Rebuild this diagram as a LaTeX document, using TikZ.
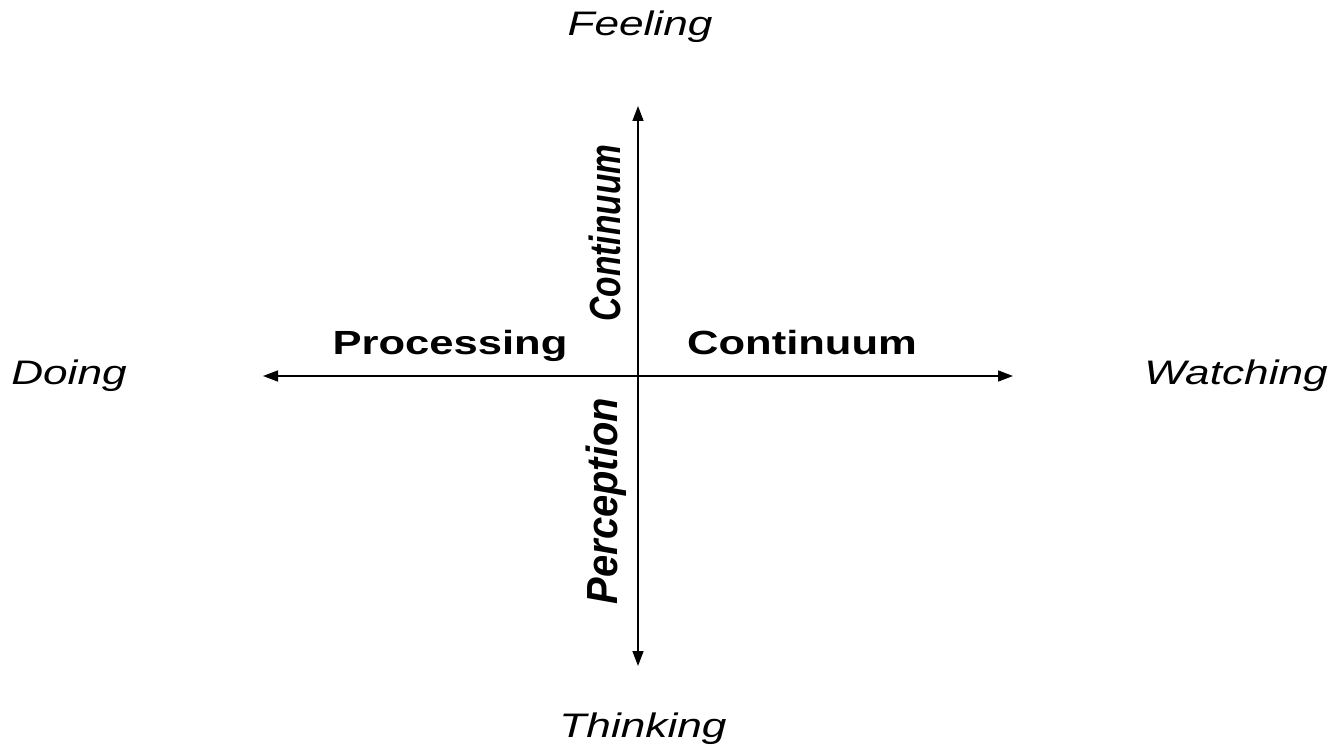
\documentclass[tikz,border=0pt]{standalone}
\usepackage{fontspec}
\setmainfont{Liberation Sans}
\usetikzlibrary{arrows.meta}

\begin{document}
\begin{tikzpicture}[
    x=1pt, y=-1pt,
    pole/.style={font=\fontsize{34}{40}\selectfont\itshape, xscale=1.3},
    axlab/.style={font=\fontsize{33.5}{40}\selectfont\bfseries, xscale=1.3, anchor=base},
    vlab/.style={font=\fontsize{33.5}{40}\selectfont\bfseries\itshape, xscale=1.3, rotate=90},
    axis/.style={line width=1.5pt},
    >={Triangle[length=15pt, width=11pt]}
]
\useasboundingbox (0,0) rectangle (1335,751);

\coordinate (top) at (638,106);
\coordinate (bot) at (638,666);
\coordinate (lft) at (263,376);
\coordinate (rgt) at (1013,376);

\node[pole] (feel) at (640,27) {Feeling};
\node[pole] (think) at (643,729) {Thinking};
\node[pole] (doing) at (69,376) {Doing};
\node[pole] (watch) at (1236,376) {Watching};

\node[axlab] (proc) at (450,354) {Processing};
\node[axlab] (contr) at (802,354) {Continuum};
\node[vlab] (contv) at (605,233) {Continuum};
\node[vlab, xscale=1.19] (perc) at (606,501) {Perception};

% axes
\draw[axis,<->] (lft) -- (rgt);
\draw[axis,<->] (bot) -- (top);
\end{tikzpicture}
\end{document}
